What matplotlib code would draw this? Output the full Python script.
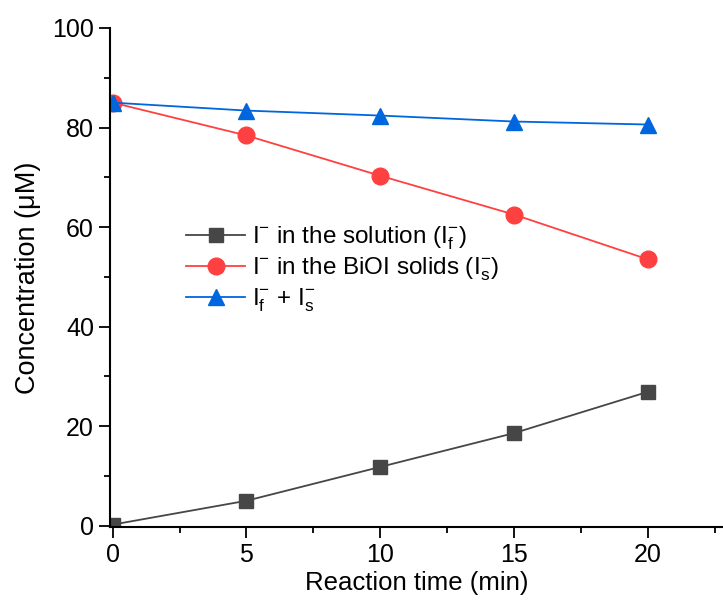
import numpy as np
import matplotlib
matplotlib.use("Agg")
import matplotlib.pyplot as plt
from matplotlib.ticker import MultipleLocator

plt.rcParams['font.family'] = ['Liberation Sans', 'DejaVu Sans']
plt.rcParams['mathtext.fontset'] = 'custom'
plt.rcParams['mathtext.rm'] = 'Liberation Sans'
plt.rcParams['mathtext.it'] = 'Liberation Sans'

# data
time_min = [0, 5, 10, 15, 20]
i_solution = [0.2, 5.0, 11.8, 18.6, 26.9]
i_solids = [85.0, 78.4, 70.3, 62.5, 53.5]
i_total = [85.0, 83.4, 82.4, 81.2, 80.6]

labels = [r'I$^{\mathregular{-}}$ in the solution (I$_{\mathregular{f}}^{\mathregular{-}}$)',
          r'I$^{\mathregular{-}}$ in the BiOI solids (I$_{\mathregular{s}}^{\mathregular{-}}$)',
          r'I$_{\mathregular{f}}^{\mathregular{-}}$ + I$_{\mathregular{s}}^{\mathregular{-}}$']

fig = plt.figure(figsize=(7.23, 6.08), dpi=100)
ax = fig.add_axes([0.152, 0.133, 0.848, 0.821])

ax.plot(time_min, i_solution, color='#464646', marker='s', markersize=10, lw=1.3, label=labels[0])
ax.plot(time_min, i_solids, color='#ff4040', marker='o', markersize=12, lw=1.3, label=labels[1])
ax.plot(time_min, i_total, color='#0066dd', marker='^', markersize=12, lw=1.3, label=labels[2])

ax.set_xlim(-0.1, 22.8)
ax.set_ylim(-0.3, 100)
ax.xaxis.set_major_locator(MultipleLocator(5))
ax.xaxis.set_minor_locator(MultipleLocator(2.5))
ax.yaxis.set_major_locator(MultipleLocator(20))
ax.yaxis.set_minor_locator(MultipleLocator(10))
ax.tick_params(which='major', direction='out', length=8, width=1.3, labelsize=18)
ax.tick_params(which='minor', direction='out', length=4, width=1.3)

for s in ['top', 'right']:
    ax.spines[s].set_visible(False)
for s in ['left', 'bottom']:
    ax.spines[s].set_linewidth(1.5)

ax.set_xlabel('Reaction time (min)', fontsize=18.5, labelpad=3)
ax.set_ylabel('Concentration (μM)', fontsize=19.5, labelpad=8)

ax.legend(loc='upper left', bbox_to_anchor=(0.089, 0.65), frameon=False, fontsize=17.5,
          handlelength=2.4, handletextpad=0.3, labelspacing=0.15)

fig.savefig('out.png', dpi=100)
